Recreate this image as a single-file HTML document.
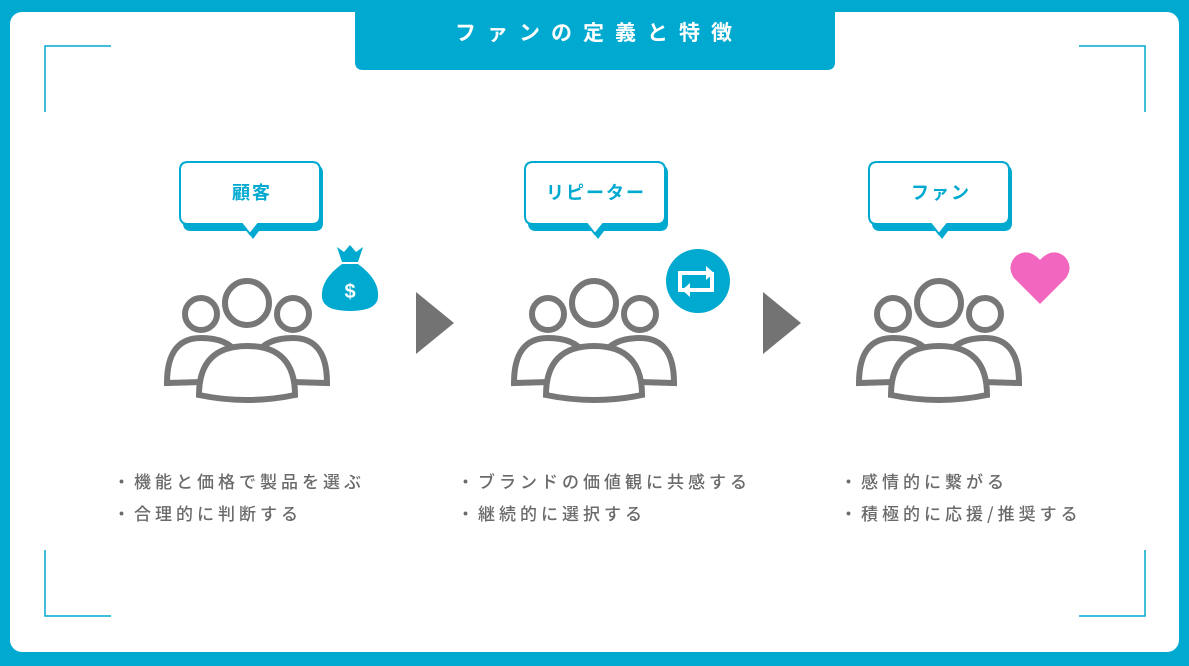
<!DOCTYPE html>
<html><head><meta charset="utf-8"><style>
body{margin:0;width:1189px;height:661px;overflow:hidden;background:#00a9d0;font-family:"Liberation Sans","Noto Sans CJK JP",sans-serif}
</style></head><body>
<svg width="1189" height="661" xmlns="http://www.w3.org/2000/svg">
<rect x="0" y="0" width="1189" height="661" fill="#00a9d0"/>
<rect x="10" y="12" width="1169" height="640" rx="12" fill="#fff"/>
<path d="M355 8 H835 V62 Q835 70 827 70 H363 Q355 70 355 62 Z" fill="#00a9d0"/>
<text x="599" y="40" text-anchor="middle" font-size="21" font-weight="bold" fill="#fff" letter-spacing="11" style="font-family:'Noto Sans CJK JP',sans-serif">ファンの定義と特徴</text>
<g stroke="#00a9d0" stroke-width="1.5" fill="none">
<path d="M111 46 H45 V112"/><path d="M1079 46 H1145 V112"/>
<path d="M111 616 H45 V550"/><path d="M1079 616 H1145 V550"/>
</g>
<defs>
<g id="ppl" stroke="#777" stroke-width="6" fill="#fff">
<path d="M-80 80 Q-80 35 -46 35 Q-20 35 -10 50 L-10 78 Z"/>
<path d="M80 80 Q80 35 46 35 Q20 35 10 50 L10 78 Z"/>
<circle cx="-46" cy="11" r="16"/><circle cx="46" cy="11" r="16"/>
<path d="M-48 92 Q-48 43 0 43 Q48 43 48 92 Q0 102 -48 92 Z"/>
<circle cx="0" cy="0" r="22"/>
</g>
<g id="bub">
<path d="M-66 0 H62 Q70 0 70 8 V58 Q70 66 62 66 H6 L0 74 L-6 66 H-62 Q-70 66 -70 58 V8 Q-70 0 -66 0Z" fill="#00a9d0" transform="translate(3,3)"/>
<path d="M-62 0 H62 Q70 0 70 8 V54 Q70 62 62 62 H8 L0 72 L-8 62 H-62 Q-70 62 -70 54 V8 Q-70 0 -62 0Z" fill="#fff" stroke="#00a9d0" stroke-width="2"/>
</g>
</defs>
<use href="#ppl" x="247" y="303"/><use href="#ppl" x="594" y="303"/><use href="#ppl" x="939" y="303"/>
<use href="#bub" x="250" y="162"/><use href="#bub" x="595" y="162"/><use href="#bub" x="939" y="162"/>
<g font-size="18" font-weight="bold" fill="#00a9d0" text-anchor="middle" style="font-family:'Noto Sans CJK JP',sans-serif" letter-spacing="2">
<text x="252" y="199">顧客</text><text x="596" y="199">リピーター</text><text x="941" y="199">ファン</text>
</g>
<polygon points="416,292 454,323 416,354" fill="#737373"/>
<polygon points="763,292 801,323 763,354" fill="#737373"/>
<path d="M337 247 L344 252 L350 245 L356 252 L363 247 L358 262 H342 Z" fill="#00a9d0"/>
<path d="M342 264 H358 Q380 280 378 298 Q376 311 350 311 Q324 311 322 298 Q320 280 342 264Z" fill="#00a9d0"/>
<text x="350" y="298" text-anchor="middle" font-size="20" font-weight="bold" fill="#fff">$</text>
<circle cx="698" cy="281" r="32" fill="#00a9d0"/>
<g stroke="#fff" stroke-width="4" fill="none">
<path d="M684 290 H680 V273 H712"/><path d="M712 272 V290 H684"/>
</g>
<polygon points="706,266 714,273 706,280" fill="#fff"/><polygon points="690,283 682,290 690,297" fill="#fff"/>
<path d="M1040 304 L1014 278 Q1006 266 1016 256 Q1028 247 1040 260 Q1052 247 1064 256 Q1074 266 1066 278 Z" fill="#f366bf"/>
<g font-size="17" font-weight="500" fill="#6a6a6a" letter-spacing="4" style="font-family:'Noto Sans CJK JP',sans-serif">
<text x="113" y="488">・機能と価格で製品を選ぶ</text>
<text x="113" y="520">・合理的に判断する</text>
<text x="457" y="488">・ブランドの価値観に共感する</text>
<text x="457" y="520">・継続的に選択する</text>
<text x="840" y="488">・感情的に繋がる</text>
<text x="840" y="520">・積極的に応援/推奨する</text>
</g>
</svg>
</body></html>
